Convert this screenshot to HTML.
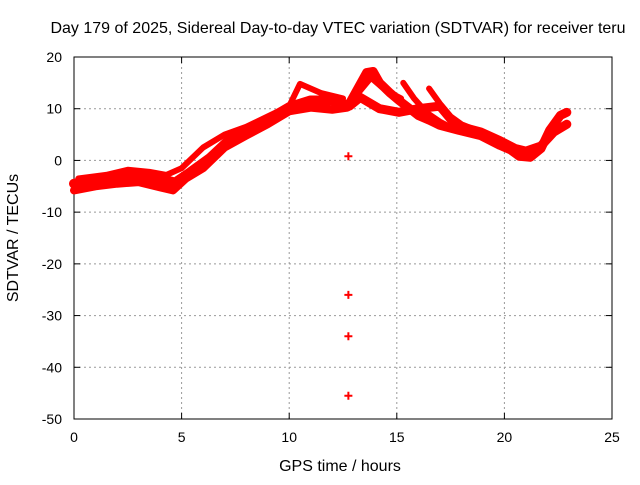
<!DOCTYPE html>
<html><head><meta charset="utf-8"><style>
body{margin:0;background:#fff}
svg text{font-family:"Liberation Sans",sans-serif;font-size:14px;fill:#000}
svg text.big{font-size:16px}
</style></head><body>
<svg width="640" height="480">
<rect width="640" height="480" fill="#fff"/>
<text class="big" x="338" y="33" text-anchor="middle">Day 179 of 2025, Sidereal Day-to-day VTEC variation (SDTVAR) for receiver teru</text>
<g id="grid"></g>
<g id="axes"></g>
<g id="series"></g>
<text class="big" x="340" y="471" text-anchor="middle">GPS time / hours</text>
<text class="big" transform="translate(18,238) rotate(-90)" text-anchor="middle">SDTVAR / TECUs</text>
</svg>
<script>
const xTicks=[0,5,10,15,20,25];
const yTicks=[-50,-40,-30,-20,-10,0,10,20];
const trackMainH=[0,0.6,1.2,2,2.6,3.3,4,4.7,5.4,6.3,7.2,8.2,9.1,10,11,11.9,12.6];
const trackMainV=[-4.5,-4.2,-3.9,-3.3,-3.1,-3.0,-3.5,-4.3,-2.3,0.4,3.9,5.8,8.1,10.3,11.6,11.6,10.8];
const trackLowH=[0,1,2,3,4,4.6,5.2,6,7,8,9,10,11,12,12.7];
const trackLowV=[-5.8,-5,-4.5,-4.2,-5.2,-5.8,-3.5,-1.5,2.5,4.8,7,9.5,10.2,9.8,10.2];
const trackUpH=[0.2,1.5,2.5,3.5,4.3,5,6,7,8,9,10,10.5,11.5,12.5];
const trackUpV=[-3.5,-2.8,-1.8,-2.2,-2.8,-1.5,2.5,5,6.5,8.5,10.5,14.8,13,12];
const trackPeakH=[12.8,13.2,13.6,13.9,14.2,14.7,15.1,15.6,16,16.5,17,17.9,18.9,19.8,20.3,20.7,21.2,21.7,22.1,22.6,22.9];
const trackPeakV=[11,14,17,17.2,15,13,11.6,10,8.7,7.8,6.8,5.8,4.8,2.9,2,0.8,0.6,2.3,5.8,8.7,9.3];
const trackMidH=[12.8,13.3,14.2,15.1,16,17,17.5,18,18.9,19.8,20.5,21,21.7,22.3,22.9];
const trackMidV=[10.5,12.2,10,9.3,10,10.5,8,6.5,5.5,3.8,2.3,1.8,2.8,5.5,7];
const trackDiagH=[15.3,15.8,16.4,17,17.6,18.2];
const trackDiagV=[15,12,9.2,7.5,6.2,5.6];
const trackDiag2H=[16.5,17,17.5,18,18.6,19.2,19.8,20.4];
const trackDiag2V=[13.9,11,8.5,7,6,4.5,3.5,2.5];
const trackBranchH=[13.2,13.8,14.5,15.2];
const trackBranchV=[13,16,13.5,12];
const outlierH=[12.75,12.75,12.75,12.75];
const outlierV=[0.8,-26,-34,-45.5];
const X0=74,X1=612,Y0=419,Y1=57;
const sx=h=>X0+(h/25)*(X1-X0);
const sy=v=>Y0-((v+50)/70)*(Y0-Y1);
const NS="http://www.w3.org/2000/svg";
const grid=document.getElementById('grid'),axes=document.getElementById('axes'),ser=document.getElementById('series');
function mk(tag,a,p){const e=document.createElementNS(NS,tag);for(const k in a)e.setAttribute(k,a[k]);p.appendChild(e);return e;}
xTicks.forEach(t=>{const x=sx(t);
 if(t>0&&t<25){const g=mk('line',{x1:x,x2:x,y1:Y1,y2:Y0,stroke:'#999','stroke-dasharray':'2,3'},grid);
 
 }
 mk('line',{x1:x,x2:x,y1:Y0,y2:Y0-6,stroke:'#000'},axes);
 mk('line',{x1:x,x2:x,y1:Y1,y2:Y1+6,stroke:'#000'},axes);
 const tx=mk('text',{x:x,y:Y0+23,'text-anchor':'middle'},axes);tx.textContent=t;
 
 });
yTicks.forEach(t=>{const y=sy(t);
 if(t>-50&&t<20){const g=mk('line',{x1:X0,x2:X1,y1:y,y2:y,stroke:'#999','stroke-dasharray':'2,3'},grid);
 
 }
 mk('line',{x1:X0,x2:X0+6,y1:y,y2:y,stroke:'#000'},axes);
 mk('line',{x1:X1,x2:X1-6,y1:y,y2:y,stroke:'#000'},axes);
 const tx=mk('text',{x:X0-12,y:y+5,'text-anchor':'end'},axes);tx.textContent=t;
 
 });
mk('rect',{x:X0,y:Y1,width:X1-X0,height:Y0-Y1,fill:'none',stroke:'#000'},axes);
function track(H,V,w,name){
 const pts=H.map((h,i)=>sx(h)+','+sy(V[i])).join(' ');
 const p=mk('polyline',{points:pts,fill:'none',stroke:'#f00','stroke-width':w,'stroke-linejoin':'round','stroke-linecap':'round'},ser);
 
 }
track(trackMainH,trackMainV,10,'series-main');
track(trackLowH,trackLowV,8,'series-low');
track(trackUpH,trackUpV,6,'series-up');
track(trackPeakH,trackPeakV,9,'series-peak');
track(trackMidH,trackMidV,9,'series-mid');
track(trackDiagH,trackDiagV,6,'series-diag');
track(trackDiag2H,trackDiag2V,6,'series-diag2');
track(trackBranchH,trackBranchV,6,'series-branch');
outlierH.forEach((h,i)=>{const x=sx(h),y=sy(outlierV[i]);
 const p=mk('path',{d:`M${x-4},${y}H${x+4}M${x},${y-4}V${y+4}`,stroke:'#f00','stroke-width':2},ser);
 
 });
</script>
</body></html>
